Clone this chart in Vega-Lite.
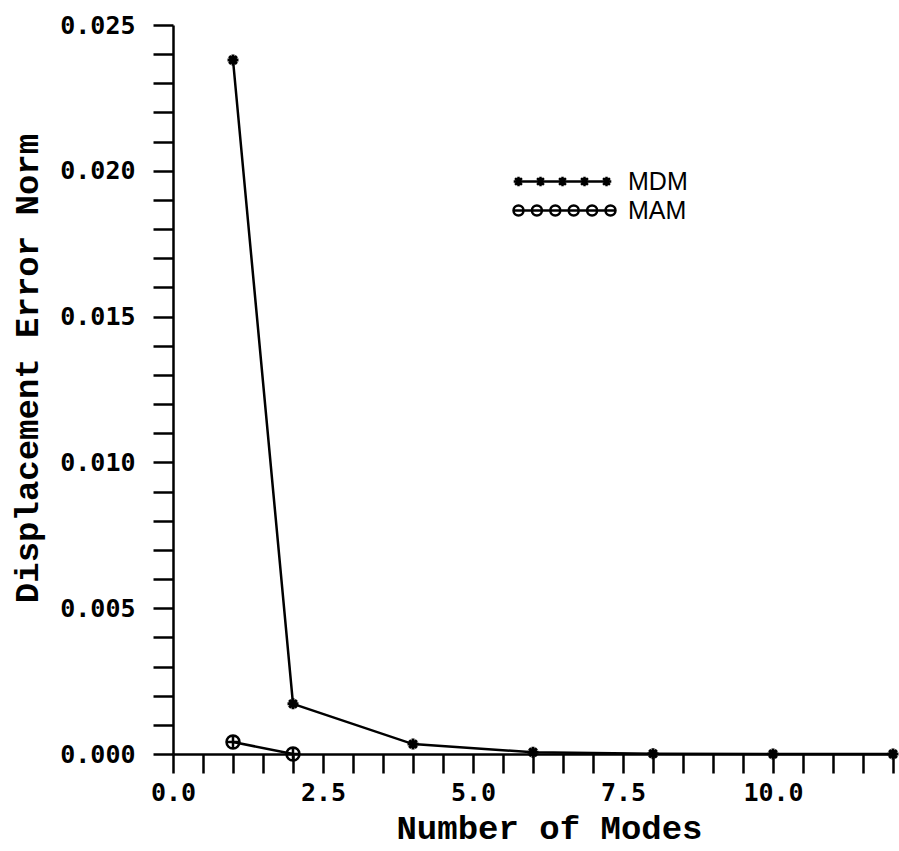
{
  "$schema": "https://vega.github.io/schema/vega-lite/v6.json",
  "width": 720,
  "height": 729,
  "autosize": {"type": "none"},
  "padding": {"left": 173, "top": 25, "right": 6, "bottom": 97},
  "background": "white",
  "config": {
    "view": {"stroke": null},
    "axis": {
      "grid": false,
      "domainColor": "black",
      "tickColor": "black",
      "labelColor": "black",
      "titleColor": "black",
      "domainWidth": 2.5,
      "tickWidth": 2.5
    }
  },
  "data": {
    "values": [
      {"series": "MDM", "modes": 1, "err": 0.0238},
      {"series": "MDM", "modes": 2, "err": 0.00172},
      {"series": "MDM", "modes": 4, "err": 0.00034},
      {"series": "MDM", "modes": 6, "err": 0.00006},
      {"series": "MDM", "modes": 8, "err": 0.00001},
      {"series": "MDM", "modes": 10, "err": 0.0},
      {"series": "MDM", "modes": 12, "err": 0.0},
      {"series": "MAM", "modes": 1, "err": 0.00041},
      {"series": "MAM", "modes": 2, "err": 0.0}
    ]
  },
  "encoding": {
    "x": {
      "field": "modes",
      "type": "quantitative",
      "scale": {"domain": [0, 12], "nice": false},
      "axis": {
        "title": "Number of Modes",
        "titleFont": "Liberation Mono",
        "titleFontSize": 34,
        "titleFontWeight": "bold",
        "titleX": 376,
        "titleY": 84,
        "titleBaseline": "alphabetic",
        "titleAlign": "center",
        "values": [0,0.5,1,1.5,2,2.5,3,3.5,4,4.5,5,5.5,6,6.5,7,7.5,8,8.5,9,9.5,10,10.5,11,11.5,12],
        "labelExpr": "round(datum.value*2) % 5 === 0 ? format(datum.value, '.1f') : ''",
        "labelFont": "DejaVu Sans Mono",
        "labelFontSize": 25,
        "labelFontWeight": "bold",
        "labelPadding": 7,
        "labelDx": -6,
        "labelOverlap": false,
        "labelFlush": false,
        "tickSize": 19,
        "encode": {"ticks": {"update": {"y2": {"signal": "round(datum.value*2) % 5 === 0 ? 19 : 14"}}}}
      }
    },
    "y": {
      "field": "err",
      "type": "quantitative",
      "scale": {"domain": [0, 0.025], "nice": false},
      "axis": {
        "title": "Displacement Error Norm",
        "titleFont": "Liberation Mono",
        "titleFontSize": 34,
        "titleFontWeight": "bold",
        "titleX": -146,
        "titleY": 343,
        "titleAngle": -90,
        "titleBaseline": "middle",
        "titleAlign": "center",
        "values": [0,0.001,0.002,0.003,0.004,0.005,0.006,0.007,0.008,0.009,0.01,0.011,0.012,0.013,0.014,0.015,0.016,0.017,0.018,0.019,0.02,0.021,0.022,0.023,0.024,0.025],
        "labelExpr": "round(datum.value*1000) % 5 === 0 ? format(datum.value, '.3f') : ''",
        "labelFont": "DejaVu Sans Mono",
        "labelFontSize": 25,
        "labelFontWeight": "bold",
        "labelPadding": 18,
        "labelOverlap": false,
        "labelFlush": false,
        "tickSize": 20,
        "encode": {"ticks": {"update": {"x2": {"signal": "round(datum.value*1000) % 5 === 0 ? -20 : -12"}}}}
      }
    }
  },
  "layer": [
    {
      "mark": {"type": "line", "strokeWidth": 2.5},
      "encoding": {
        "color": {
          "field": "series",
          "type": "nominal",
          "scale": {"domain": ["MDM", "MAM"], "range": ["black", "black"]},
          "legend": {
            "title": null,
            "orient": "none",
            "legendX": 333,
            "legendY": 144,
            "padding": 0,
            "symbolSize": 64,
            "labelOffset": 97,
            "labelFont": "Liberation Sans",
            "labelFontSize": 25,
            "labelColor": "black",
            "rowPadding": 3,
            "symbolStrokeWidth": 2.5,
            "symbolStrokeColor": "black",
            "encode": {
              "symbols": {
                "update": {
                  "shape": {"signal": "datum.value === 'MDM' ? 'M-1.2,0L23.2,0M0,-1.2L0,1.2M-0.85,-0.85L0.85,0.85M-0.85,0.85L0.85,-0.85M5.5,-1.2L5.5,1.2M4.65,-0.85L6.35,0.85M4.65,0.85L6.35,-0.85M11,-1.2L11,1.2M10.15,-0.85L11.85,0.85M10.15,0.85L11.85,-0.85M16.5,-1.2L16.5,1.2M15.65,-0.85L17.35,0.85M15.65,0.85L17.35,-0.85M22,-1.2L22,1.2M21.15,-0.85L22.85,0.85M21.15,0.85L22.85,-0.85' : 'M-1.25,0L24.25,0M1.25,0A1.25,1.25 0 1,1 -1.25,0A1.25,1.25 0 1,1 1.25,0M5.85,0A1.25,1.25 0 1,1 3.35,0A1.25,1.25 0 1,1 5.85,0M10.45,0A1.25,1.25 0 1,1 7.95,0A1.25,1.25 0 1,1 10.45,0M15.05,0A1.25,1.25 0 1,1 12.55,0A1.25,1.25 0 1,1 15.05,0M19.65,0A1.25,1.25 0 1,1 17.15,0A1.25,1.25 0 1,1 19.65,0M24.25,0A1.25,1.25 0 1,1 21.75,0A1.25,1.25 0 1,1 24.25,0'"},
                  "size": {"value": 64},
                  "stroke": {"value": "black"},
                  "fill": {"value": "transparent"},
                  "strokeWidth": {"value": 2.5}
                }
              }
            }
          }
        }
      }
    },
    {
      "transform": [{"filter": "datum.series === 'MDM'"}],
      "mark": {"type": "point", "filled": false, "stroke": "black", "strokeWidth": 3, "opacity": 1, "size": 120, "shape": "M-1,0L1,0M0,-1L0,1M-0.7,-0.7L0.7,0.7M-0.7,0.7L0.7,-0.7"}
    },
    {
      "transform": [{"filter": "datum.series === 'MAM'"}],
      "mark": {"type": "point", "filled": false, "stroke": "black", "strokeWidth": 2.5, "opacity": 1, "size": 100, "shape": "M1.3,0A1.3,1.3 0 1,1 -1.3,0A1.3,1.3 0 1,1 1.3,0M-1.3,0L1.3,0M0,-1.3L0,1.3"}
    }
  ]
}
